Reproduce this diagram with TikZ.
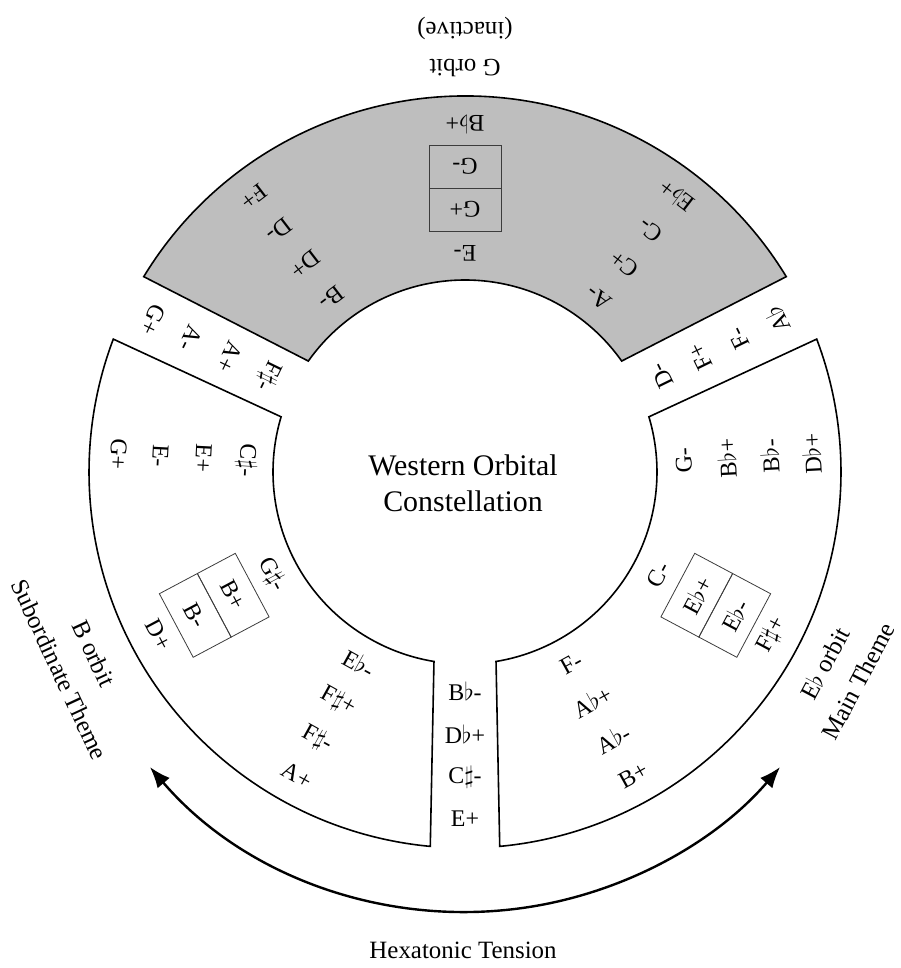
\documentclass[tikz,border=0pt]{standalone}
\usepackage{fontspec}
\setmainfont{Liberation Serif}
\usetikzlibrary{arrows.meta,calc}
\definecolor{inactivegray}{RGB}{190,190,190}
\definecolor{boxline}{RGB}{60,60,60}
\newcommand{\mflat}{\ensuremath{\flat}}
\newcommand{\msharp}{\ensuremath{\sharp}}
\begin{document}
\begin{tikzpicture}[x=1bp,y=1bp,
  ring/.style={draw=black, line width=1.6bp, line join=miter},
  chord/.style={font=\fontsize{24}{28}\selectfont, inner sep=0pt},
  cell/.style={draw=boxline, line width=0.8bp, minimum width=72bp,
    minimum height=43bp, inner sep=0pt, font=\fontsize{24}{28}\selectfont},
  orbit/.style={font=\fontsize{25}{38}\selectfont, align=center, inner sep=0pt},
  tensionarc/.style={line width=2.4bp,
    {Latex[length=21bp,width=16bp]}-{Latex[length=21bp,width=16bp]}},
]
\useasboundingbox (0,0) rectangle (901,968);
\begin{scope}[shift={(465,496)}]
  % three annular sectors separated by straight gaps
  \filldraw[ring, fill=inactivegray]
    (35.3:192) arc[start angle=35.3, end angle=144.7, radius=192]
    -- (148.7:376) arc[start angle=148.7, end angle=31.3, radius=376] -- cycle;
  \draw[ring]
    (163.3:192) arc[start angle=163.3, end angle=260.7, radius=192]
    -- (264.7:376) arc[start angle=264.7, end angle=159.3, radius=376] -- cycle;
  \draw[ring]
    (-80.7:192) arc[start angle=-80.7, end angle=16.7, radius=192]
    -- (20.7:376) arc[start angle=20.7, end angle=-84.7, radius=376] -- cycle;

  % paired boxes on the middle spoke of each orbit
  \node[cell, rotate=180] (gplus) at (90:262.5) {G+};
  \node[cell, rotate=180] (gminus) at (90:305.5) {G-};
  \node[cell, rotate=298] (bplus) at (208:262.5) {B+};
  \node[cell, rotate=298] (bminus) at (208:305.5) {B-};
  \node[cell, rotate=62] (eplus) at (332:262.5) {E\mflat+};
  \node[cell, rotate=62] (eminus) at (332:305.5) {E\mflat-};

  % chord names along the spokes, reading outward from the hub
  \foreach \a/\r/\t [count=\i] in {
      90/219/{E-}, 90/347/{B\mflat+},
      127.5/219/{B-}, 127.5/262/{D+}, 127.5/305/{D-}, 127.5/347/{F+},
      52.5/219/{A-}, 52.5/262/{C+}, 52.5/305/{C-}, 52.5/347/{E\mflat+},
      154/219/{F\msharp-}, 154/262/{A+}, 154/305/{A-}, 154/347/{G+},
      26/219/{D-}, 26/262/{F+}, 26/305/{F-}, 26/347/{A\mflat},
      177/219/{C\msharp-}, 177/262/{E+}, 177/305/{E-}, 177/347/{G+},
      208/219/{G\msharp-}, 208/347/{D+},
      241/219/{E\mflat-}, 241/262/{F\msharp+}, 241/305/{F\msharp-}, 241/347/{A+},
      270/219/{B\mflat-}, 270/262/{D\mflat+}, 270/305/{C\msharp-}, 270/347/{E+},
      299/219/{F-}, 299/262/{A\mflat+}, 299/305/{A\mflat-}, 299/347/{B+},
      332/219/{C-}, 332/347/{F\msharp+},
      3/219/{G-}, 3/262/{B\mflat+}, 3/305/{B\mflat-}, 3/347/{D\mflat+}}
    \node[chord, rotate=\a+90] (ch\i) at (\a:\r) {\t};

  % hub title
  \node[font=\fontsize{30}{36}\selectfont, align=center] (title) at (-2,-11)
    {Western Orbital\\Constellation};

  % orbit captions outside the ring
  \node[orbit, rotate=180] (gorbit) at (90:425) {G orbit\\(inactive)};
  \node[orbit, rotate=295] (borbit) at (206:432) {B orbit\\Subordinate Theme};
  \node[orbit, rotate=62] (eorbit) at (332:426) {E\mflat{} orbit\\Main Theme};

  % tension arc between the two active orbits
  \coordinate (tensC) at (0,-25);
  \coordinate (tensL) at ($(tensC)+(220.6:415)$);
  \draw[tensionarc] (tensL) arc[start angle=220.6, end angle=319.4, radius=415];
  \node[orbit] (hexlabel) at (-2,-478) {Hexatonic Tension};
\end{scope}
\end{tikzpicture}
\end{document}
